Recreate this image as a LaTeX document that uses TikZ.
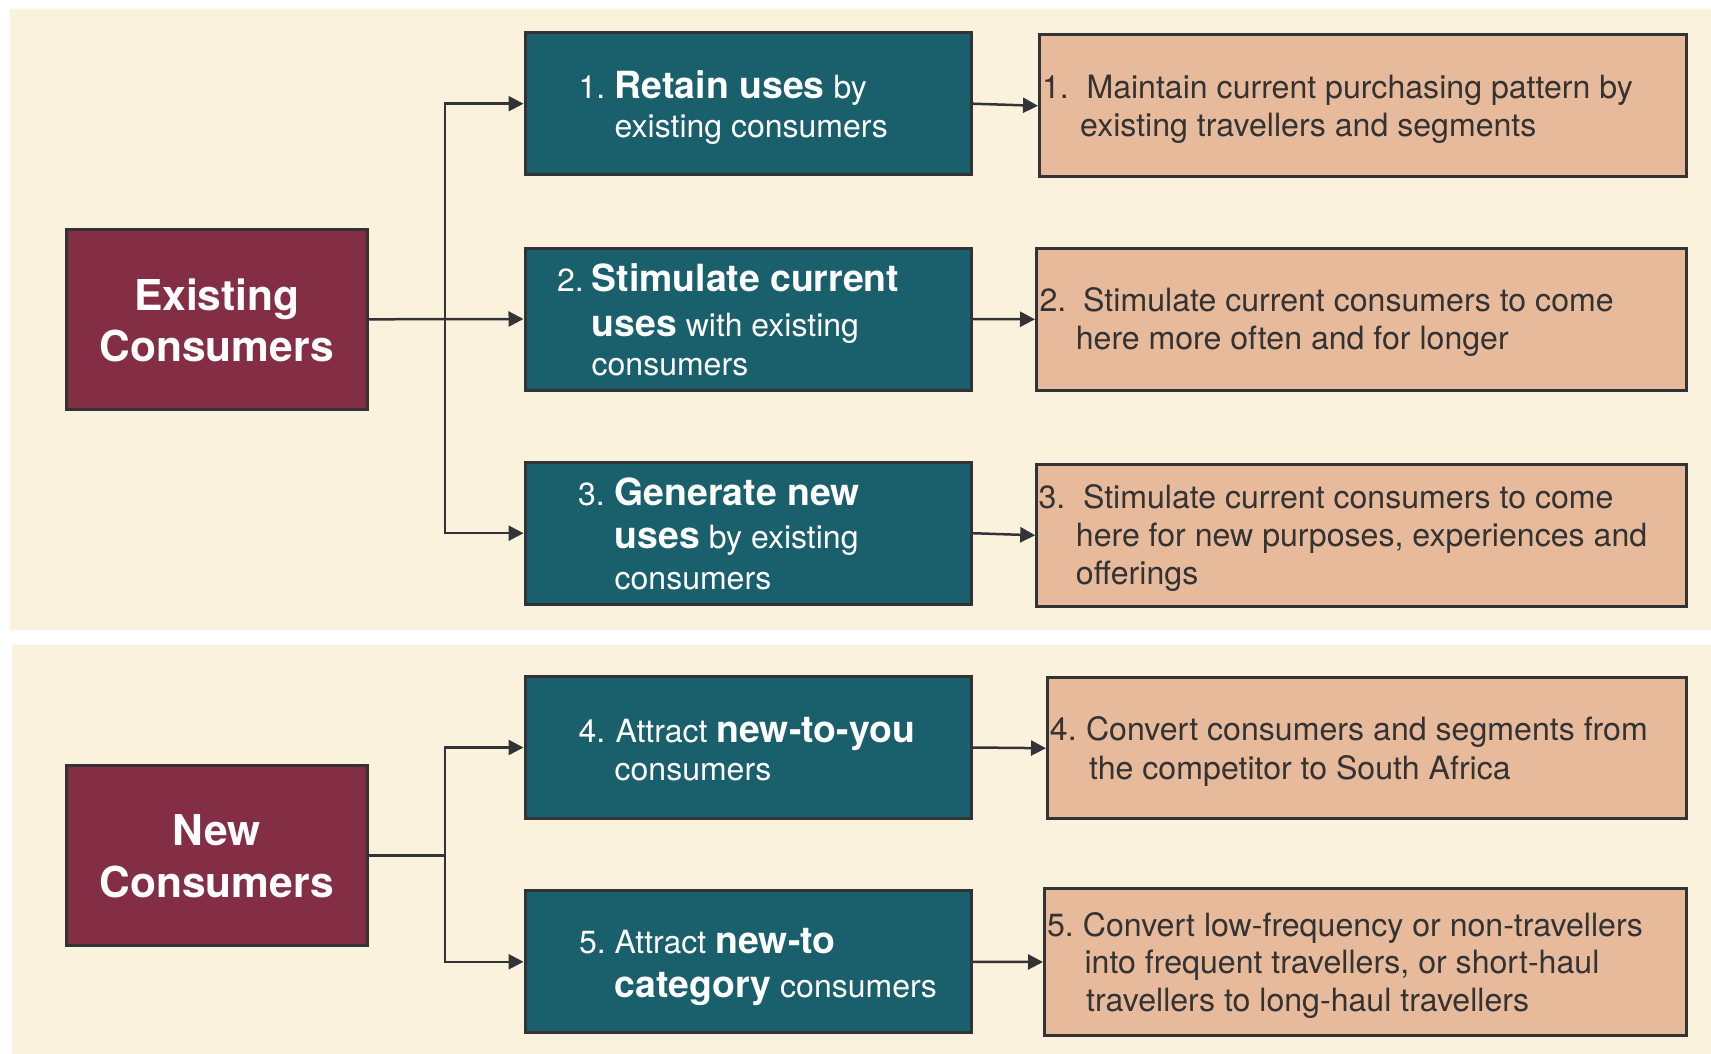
\documentclass[tikz,border=0pt]{standalone}
\usepackage{fontspec}
\setmainfont{TeX Gyre Heros}
\usetikzlibrary{arrows.meta}
\definecolor{cream}{RGB}{251,242,222}
\definecolor{tealbox}{RGB}{26,95,108}
\definecolor{maroon}{RGB}{132,46,70}
\definecolor{salmon}{RGB}{232,186,156}
\definecolor{edge}{RGB}{51,51,54}
\definecolor{darktext}{RGB}{51,51,51}
\newcommand\myreg{\fontsize{32}{38}\selectfont}
\newcommand\myregr{\fontsize{32.1}{38}\selectfont}
\newcommand\mybold{\fontsize{37.4}{44}\selectfont\bfseries}
\newcommand\myhead{\fontsize{42.5}{51}\selectfont\bfseries}
\tikzset{
  panel/.style={fill=cream,draw=none},
  box/.style={draw=edge,line width=3pt,inner sep=0pt,rectangle},
  ebox/.style={box,fill=maroon},
  tbox/.style={box,fill=tealbox,minimum width=446pt,minimum height=142pt},
  rbox/.style={box,fill=salmon},
  wtxt/.style={anchor=base west,inner sep=0pt,text=white,font=\myreg},
  dtxt/.style={anchor=base west,inner sep=0pt,text=darktext,font=\myregr},
  htxt/.style={anchor=base,inner sep=0pt,text=white,font=\myhead},
  link/.style={draw=edge,line width=2.5pt},
  conn/.style={link,-{Triangle[length=15pt,width=15pt]}},
}
\begin{document}
\begin{tikzpicture}[x=1pt,y=-1pt]
\useasboundingbox (0,0) rectangle (1711,1054);
\fill[white] (0,0) rectangle (1711,1054);
% panels
\path[panel] (10,9) rectangle (1711,629.5);
\path[panel] (12,645) rectangle (1711,1054);

% left boxes
\node[ebox,minimum width=300.5pt,minimum height=179.7pt] (ex) at (216.75,319.3) {};
\node[ebox,minimum width=300.5pt,minimum height=180pt] (nw) at (216.75,855.5) {};
\node[htxt] (exl1) at (216.75,310) {Existing};
\node[htxt] (exl2) at (216.75,361) {Consumers};
\node[htxt] (nwl1) at (216.75,845.4) {New};
\node[htxt] (nwl2) at (216.75,897) {Consumers};

% teal boxes
\node[tbox] (t1) at (748,103.7) {};
\node[tbox] (t2) at (748,319) {};
\node[tbox] (t3) at (748,533.2) {};
\node[tbox] (t4) at (748,747.5) {};
\node[tbox] (t5) at (748,961.8) {};

\node[wtxt] (t1n) at (578.3,98.3) {1.};
\node[wtxt] (t1a) at (614.5,98.3) {{\mybold Retain uses} by};
\node[wtxt] (t1b) at (614.5,137.7) {existing consumers};

\node[wtxt] (t2n) at (557,291.7) {2.};
\node[wtxt] (t2a) at (591.5,291.7) {\mybold Stimulate current};
\node[wtxt] (t2b) at (591.5,336.7) {{\mybold uses} with existing};
\node[wtxt] (t2c) at (591.5,375) {consumers};

\node[wtxt] (t3n) at (578,505.7) {3.};
\node[wtxt] (t3a) at (614.5,505.7) {\mybold Generate new};
\node[wtxt] (t3b) at (614.5,548.3) {{\mybold uses} by existing};
\node[wtxt] (t3c) at (614.5,589) {consumers};

\node[wtxt] (t4n) at (578.5,742) {4.};
\node[wtxt] (t4a) at (615.5,742) {Attract {\mybold new-to-you}};
\node[wtxt] (t4b) at (614.5,780.7) {consumers};

\node[wtxt] (t5n) at (578.8,953) {5.};
\node[wtxt] (t5a) at (614.3,953) {Attract {\mybold new-to}};
\node[wtxt] (t5b) at (614.5,997) {{\mybold category} consumers};

% salmon boxes
\node[rbox,minimum width=647pt,minimum height=142pt] (r1) at (1363,105.8) {};
\node[rbox,minimum width=650pt,minimum height=141.7pt] (r2) at (1361.5,319.3) {};
\node[rbox,minimum width=649.8pt,minimum height=142pt] (r3) at (1361.6,535.3) {};
\node[rbox,minimum width=639pt,minimum height=141.3pt] (r4) at (1367,748.2) {};
\node[rbox,minimum width=642pt,minimum height=147pt] (r5) at (1365.5,962) {};

\node[dtxt] (r1n) at (1041.8,99) {1.};
\node[dtxt] (r1a) at (1086.3,99) {Maintain current purchasing pattern by};
\node[dtxt] (r1b) at (1080,136.5) {existing travellers and segments};

\node[dtxt] (r2n) at (1039.3,311.7) {2.};
\node[dtxt] (r2a) at (1083,311.7) {Stimulate current consumers to come};
\node[dtxt] (r2b) at (1075.6,349.3) {here more often and for longer};

\node[dtxt] (r3n) at (1038.3,508.3) {3.};
\node[dtxt] (r3a) at (1082.8,508.3) {Stimulate current consumers to come};
\node[dtxt] (r3b) at (1075.7,546.7) {here for new purposes, experiences and};
\node[dtxt] (r3c) at (1075.7,584.3) {offerings};

\node[dtxt] (r4n) at (1049.7,740.7) {4.};
\node[dtxt] (r4a) at (1085.8,740.7) {Convert consumers and segments from};
\node[dtxt] (r4b) at (1088.8,779) {the competitor to South Africa};

\node[dtxt] (r5n) at (1046.9,936) {5.};
\node[dtxt] (r5a) at (1082.7,936) {Convert low-frequency or non-travellers};
\node[dtxt] (r5b) at (1084.4,973.7) {into frequent travellers, or short-haul};
\node[dtxt] (r5c) at (1086,1011.3) {travellers to long-haul travellers};

% connectors
\coordinate (j1) at (445,319.3);
\coordinate (j2) at (445,855.5);
\draw[conn] (ex.east) -- (t2.west);
\draw[conn] (j1) |- (t1.west);
\draw[conn] (j1) |- (t3.west);
\draw[link] (nw.east) -- (j2);
\draw[conn] (j2) |- (t4.west);
\draw[conn] (j2) |- (t5.west);

\draw[conn] (t1.east) -- (r1.west);
\draw[conn] (t2.east) -- (r2.west);
\draw[conn] (t3.east) -- (r3.west);
\draw[conn] (t4.east) -- (r4.west);
\draw[conn] (t5.east) -- (r5.west);
\end{tikzpicture}
\end{document}
